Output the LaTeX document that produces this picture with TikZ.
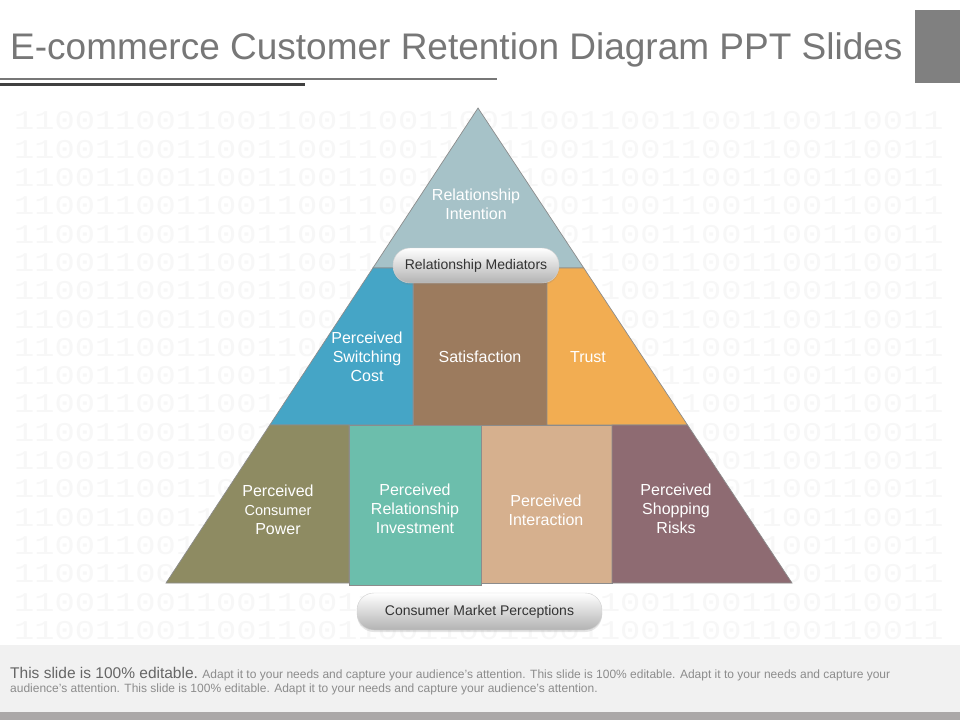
\documentclass[tikz,border=0pt]{standalone}
\usepackage{fontspec}
\setmainfont{Liberation Sans}
\newfontfamily\binfont{Liberation Mono}
\usetikzlibrary{calc,shadows,positioning}
\definecolor{ctop}{RGB}{166,194,200}
\definecolor{cswitch}{RGB}{69,165,198}
\definecolor{csatis}{RGB}{156,123,94}
\definecolor{ctrust}{RGB}{242,173,82}
\definecolor{cpower}{RGB}{142,139,98}
\definecolor{cinvest}{RGB}{108,190,172}
\definecolor{cinter}{RGB}{214,176,142}
\definecolor{crisk}{RGB}{142,107,114}
\definecolor{titlegray}{RGB}{119,119,119}
\definecolor{footgray}{RGB}{241,241,241}
\definecolor{bargray}{RGB}{171,168,168}
\newcommand{\bits}{1100110011001100110011001100110011001100110011}

\begin{document}
\begin{tikzpicture}[x=1pt, y=-1pt,
    lbl/.style={text=white, align=center, font=\fontsize{16}{19}\selectfont},
    tier/.style={draw=black!45, line width=0.7pt},
    pill/.style={rectangle, rounded corners=17pt, draw=black!18, top color=white, middle color=white, bottom color=black!30,
      text=black!80, font=\fontsize{14}{16}\selectfont, drop shadow={opacity=0.2, shadow xshift=0pt, shadow yshift=-2pt}}]
  \useasboundingbox (0,0) rectangle (960,720);
  \fill[white] (0,0) rectangle (960,720);
  \foreach \r in {0,...,18}
    \node[anchor=west, inner sep=0pt, text=black!3, font=\binfont\fontsize{27}{27}\selectfont] (bits\r) at (14,121+28.3*\r) {\scalebox{1.247}[1]{\bits}};
  \fill[footgray] (0,645) rectangle (960,712);
  \fill[bargray] (0,712) rectangle (960,720);

  \node[anchor=base west, inner sep=0pt, text=titlegray, font=\fontsize{37}{40}\selectfont] (title) at (10,59) {E-commerce Customer Retention Diagram PPT Slides};
  \fill[black!50] (915,10) rectangle (960,83);
  \fill[titlegray] (0,78) rectangle (497,80);
  \fill[black!75] (0,83) rectangle (305,86);

  \coordinate (apex) at (478,108);
  \coordinate (bl) at (166,583);
  \coordinate (br) at (792,583);
  \coordinate (l1) at ($(apex)!0.3368!(bl)$);
  \coordinate (r1) at ($(apex)!0.3368!(br)$);
  \coordinate (l2) at ($(apex)!0.6674!(bl)$);
  \coordinate (r2) at ($(apex)!0.6674!(br)$);

  \filldraw[tier, fill=ctop] (apex) -- (r1) -- (l1) -- cycle;
  \filldraw[tier, fill=cswitch] (l1) -- (413,268) -- (413,425) -- (l2) -- cycle;
  \filldraw[tier, fill=csatis] (413,268) rectangle (547,425);
  \filldraw[tier, fill=ctrust] (547,268) -- (r1) -- (r2) -- (547,425) -- cycle;
  \filldraw[tier, fill=cpower] (l2) -- (349,425) -- (349,583) -- (bl) -- cycle;
  \filldraw[tier, fill=cinvest] (349,425) rectangle (481,585);
  \filldraw[tier, fill=cinter] (481,425) rectangle (612,583);
  \filldraw[tier, fill=crisk] (612,425) -- (r2) -- (br) -- (612,583) -- cycle;

  \node[lbl] (intent) at (476,204) {Relationship\\Intention};
  \node[lbl] (switch) at (367,357) {Perceived\\Switching\\Cost};
  \node[lbl] (satis) at (480,357) {Satisfaction};
  \node[lbl] (trust) at (588,357) {Trust};
  \node[lbl] (power) at (278,510) {Perceived\\\fontsize{14.5}{18}\selectfont Consumer\\Power};
  \node[lbl] (invest) at (415,509) {Perceived\\Relationship\\Investment};
  \node[lbl] (inter) at (546,510) {Perceived\\Interaction};
  \node[lbl] (risk) at (676,509) {Perceived\\Shopping\\Risks};

  \node[pill, minimum width=166pt, minimum height=35pt] (medi) at (476,265.5) {Relationship Mediators};
  \node[pill, minimum width=245pt, minimum height=37pt] (perc) at (479.5,611.5) {Consumer Market Perceptions};

  \node[anchor=base west, inner sep=0pt, text=black!45, font=\fontsize{12}{14}\selectfont] (foot1) at (10,678)
    {{\color{black!60}\fontsize{15.5}{18}\selectfont This slide is 100\% editable.} Adapt it to your needs and capture your audience's attention. This slide is 100\% editable. Adapt it to your needs and capture your};
  \node[anchor=base west, inner sep=0pt, text=black!45, font=\fontsize{12}{14}\selectfont] (foot2) at (10,692)
    {audience's attention. This slide is 100\% editable. Adapt it to your needs and capture your audience's attention.};
\end{tikzpicture}
\end{document}
